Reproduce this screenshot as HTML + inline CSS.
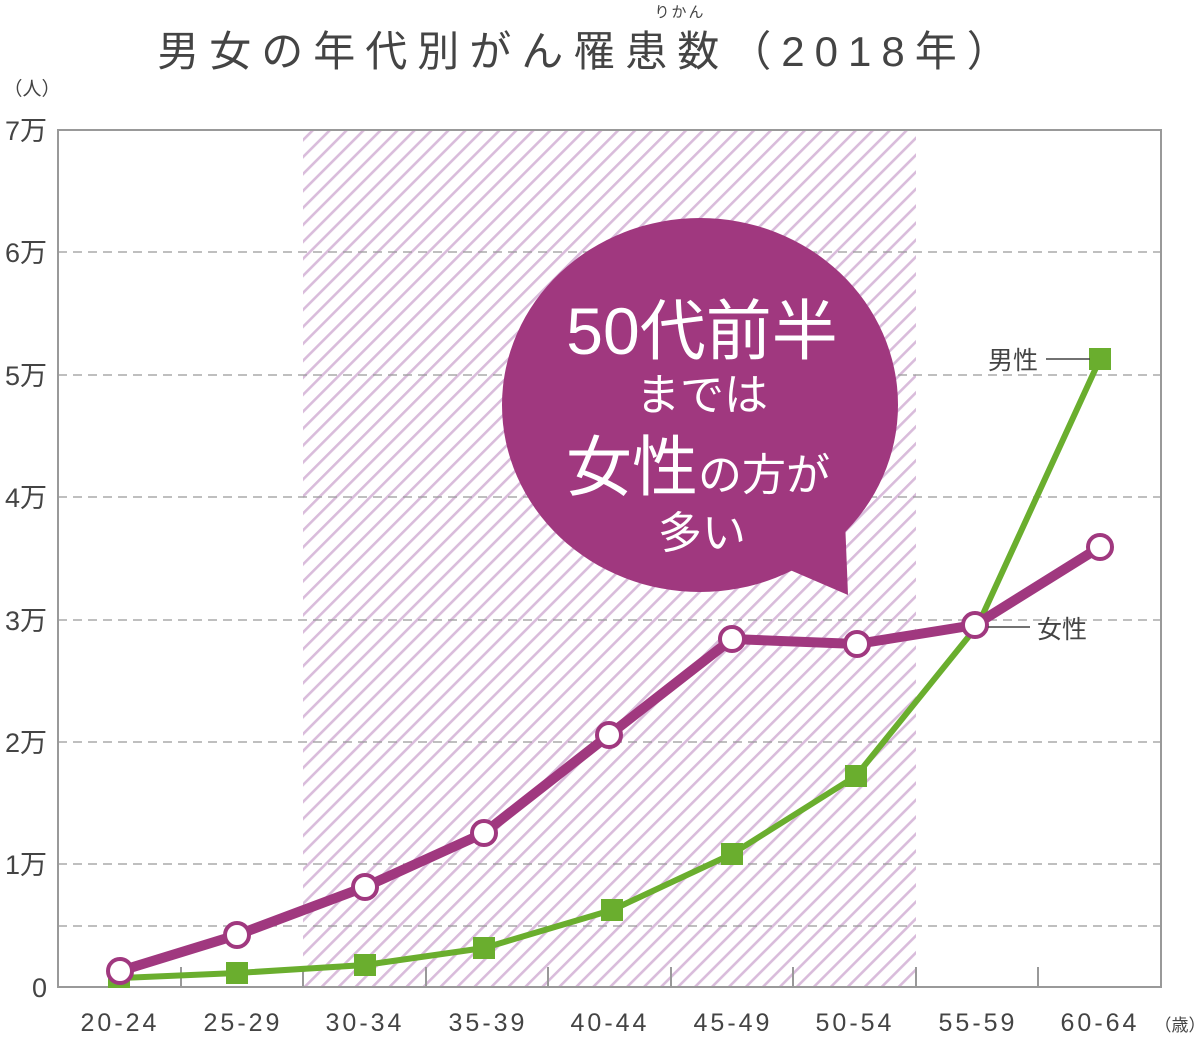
<!DOCTYPE html>
<html><head><meta charset="utf-8"><style>
body{margin:0;background:#fff;}
svg text{font-family:"Liberation Sans","Noto Sans CJK JP",sans-serif;}
</style></head><body>
<svg width="1200" height="1035" viewBox="0 0 1200 1035" xmlns="http://www.w3.org/2000/svg">
<defs>
<pattern id="h" patternUnits="userSpaceOnUse" width="12" height="12" patternTransform="rotate(45)">
<rect width="12" height="12" fill="#fff"/>
<rect x="0" y="0" width="2.6" height="12" fill="#d9bcdb"/>
</pattern>
</defs>
<text x="588" y="66" font-size="42" fill="#444" text-anchor="middle" letter-spacing="10">男女の年代別がん罹患数（2018年）</text>
<text x="680" y="17" font-size="15" fill="#444" text-anchor="middle" letter-spacing="2">りかん</text>
<text x="32" y="95" font-size="19" fill="#444" text-anchor="middle">（人）</text>
<rect x="303" y="130" width="613" height="857" fill="url(#h)"/>
<g stroke="#999" stroke-width="1.3" stroke-dasharray="9,6">
<line x1="58" y1="252" x2="1161" y2="252"/><line x1="58" y1="375" x2="1161" y2="375"/>
<line x1="58" y1="497" x2="1161" y2="497"/><line x1="58" y1="620" x2="1161" y2="620"/>
<line x1="58" y1="742" x2="1161" y2="742"/><line x1="58" y1="864" x2="1161" y2="864"/>
<line x1="58" y1="926" x2="1161" y2="926"/>
</g>
<rect x="58" y="130" width="1103" height="857" fill="none" stroke="#999" stroke-width="2"/>
<g stroke="#999" stroke-width="2">
<line x1="181" y1="987" x2="181" y2="967"/><line x1="303" y1="987" x2="303" y2="967"/>
<line x1="426" y1="987" x2="426" y2="967"/><line x1="548" y1="987" x2="548" y2="967"/>
<line x1="671" y1="987" x2="671" y2="967"/><line x1="793" y1="987" x2="793" y2="967"/>
<line x1="916" y1="987" x2="916" y2="967"/><line x1="1038" y1="987" x2="1038" y2="967"/>
</g>
<g font-size="27" fill="#444" text-anchor="end">
<text x="47" y="140">7万</text><text x="47" y="262">6万</text><text x="47" y="385">5万</text>
<text x="47" y="507">4万</text><text x="47" y="630">3万</text><text x="47" y="752">2万</text>
<text x="47" y="874">1万</text><text x="47" y="997">0</text>
</g>
<g font-size="25" fill="#444" text-anchor="middle" letter-spacing="3">
<text x="120" y="1031">20-24</text><text x="243" y="1031">25-29</text><text x="365" y="1031">30-34</text>
<text x="488" y="1031">35-39</text><text x="610" y="1031">40-44</text><text x="733" y="1031">45-49</text>
<text x="855" y="1031">50-54</text><text x="978" y="1031">55-59</text><text x="1100" y="1031">60-64</text>
</g>
<text x="1180" y="1031" font-size="17" fill="#444" text-anchor="middle">（歳）</text>
<ellipse cx="700" cy="405" rx="198" ry="187" fill="#a0387f"/>
<polygon points="790,570 848,595 845,520" fill="#a0387f"/>
<g fill="#fff" text-anchor="middle">
<text x="702" y="354" font-size="66">50代前半</text>
<text x="702" y="410" font-size="44">までは</text>
<text x="698" y="490" font-size="66">女性<tspan font-size="44">の方が</tspan></text>
<text x="702" y="548" font-size="44">多い</text>
</g>
<polyline points="120,978 237,973 365,965 484,948 612,910 732,854 856,776 978,625 1100,359" fill="none" stroke="#6aae2e" stroke-width="6"/>
<g fill="#6aae2e">
<rect x="108" y="966" width="22" height="22"/><rect x="226" y="962" width="22" height="22"/>
<rect x="354" y="954" width="22" height="22"/><rect x="473" y="937" width="22" height="22"/>
<rect x="601" y="899" width="22" height="22"/><rect x="721" y="843" width="22" height="22"/>
<rect x="845" y="765" width="22" height="22"/><rect x="1089" y="348" width="22" height="22"/>
</g>
<polyline points="120,971 237,935 365,887 484,833 609,735 732,639 857,644 975,625 1100,547" fill="none" stroke="#a0387f" stroke-width="10" stroke-linejoin="round"/>
<g fill="#fff" stroke="#a0387f" stroke-width="4">
<circle cx="120" cy="971" r="12"/><circle cx="237" cy="935" r="12"/><circle cx="365" cy="887" r="12"/>
<circle cx="484" cy="833" r="12"/><circle cx="609" cy="735" r="12"/><circle cx="732" cy="639" r="12"/>
<circle cx="857" cy="644" r="12"/><circle cx="975" cy="625" r="12"/><circle cx="1100" cy="547" r="12"/>
</g>
<line x1="1046" y1="359" x2="1090" y2="359" stroke="#444" stroke-width="1.5"/>
<text x="1038" y="369" font-size="25" fill="#444" text-anchor="end">男性</text>
<line x1="988" y1="627" x2="1030" y2="627" stroke="#444" stroke-width="1.5"/>
<text x="1037" y="638" font-size="25" fill="#444">女性</text>
</svg>
</body></html>
